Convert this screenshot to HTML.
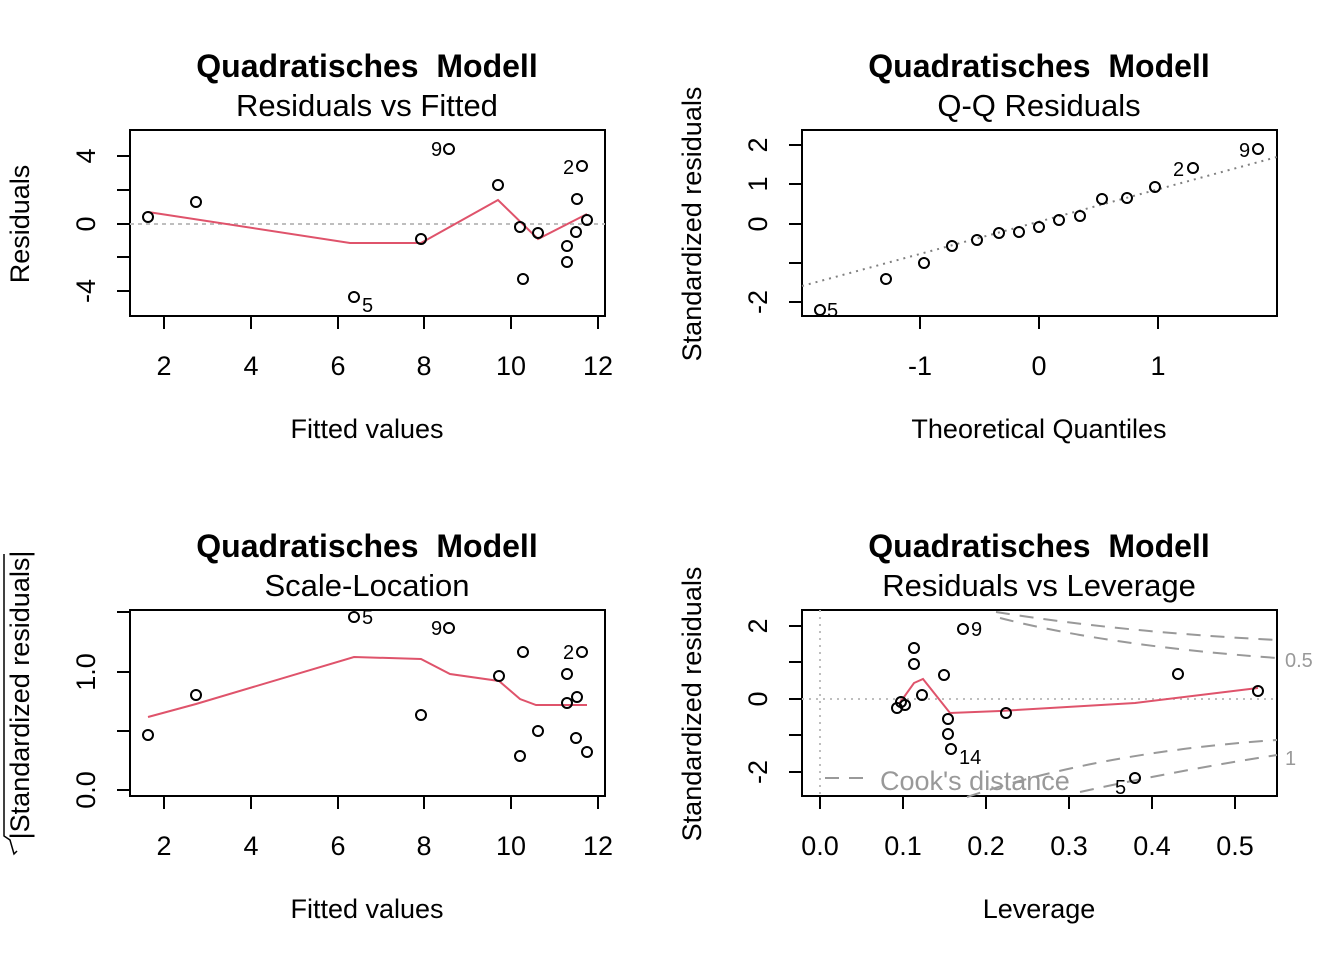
<!DOCTYPE html>
<html><head><meta charset="utf-8"><style>
html,body{margin:0;padding:0;background:#fff}
svg{display:block;font-family:"Liberation Sans",Arial,sans-serif}
</style></head><body>
<svg width="1344" height="960" xmlns="http://www.w3.org/2000/svg">
<g fill="none" stroke="#000" stroke-width="2">
<rect x="130" y="130" width="475" height="186"/>
<rect x="802" y="130" width="475" height="186"/>
<rect x="130" y="610" width="475" height="186"/>
<rect x="802" y="610" width="475" height="186"/>
<path d="M164,316v13M251,316v13M338,316v13M424,316v13M511,316v13M598,316v13"/>
<path d="M130,156h-13M130,190h-13M130,224h-13M130,257h-13M130,291h-13"/>
<path d="M920,316v13M1039,316v13M1158,316v13"/>
<path d="M802,145h-13M802,184h-13M802,224h-13M802,263h-13M802,302h-13"/>
<path d="M164,796v13M251,796v13M338,796v13M424,796v13M511,796v13M598,796v13"/>
<path d="M130,612h-13M130,672h-13M130,731h-13M130,790h-13"/>
<path d="M820,796v13M903,796v13M986,796v13M1069,796v13M1152,796v13M1235,796v13"/>
<path d="M802,626h-13M802,662h-13M802,699h-13M802,735h-13M802,772h-13"/>
</g>
<line x1="130" y1="224" x2="605" y2="224" stroke="#bebebe" stroke-width="2" stroke-dasharray="4,4"/>
<line x1="802" y1="286" x2="1277" y2="157" stroke="#808080" stroke-width="2" stroke-dasharray="2,5"/>
<line x1="802" y1="699" x2="1277" y2="699" stroke="#bebebe" stroke-width="2" stroke-dasharray="2,5"/>
<line x1="820" y1="610" x2="820" y2="796" stroke="#bebebe" stroke-width="2" stroke-dasharray="2,5"/>
<g fill="none" stroke="#999" stroke-width="2" stroke-dasharray="14,10">
<path d="M996,612 Q1120,632 1277,640"/>
<path d="M1000,618 Q1110,646 1277,658"/>
<path d="M967,797 Q1100,752 1277,740"/>
<path d="M1080,792 Q1180,770 1277,755"/>
<path d="M825,778H870"/>
</g>
<text x="880" y="790" font-size="27" fill="#999">Cook's distance</text>
<text x="1285" y="667" font-size="20" fill="#999">0.5</text>
<text x="1285" y="765" font-size="20" fill="#999">1</text>
<g fill="none" stroke="#df536b" stroke-width="2">
<polyline points="148,212 350,243 421,243 498,200 538,239 587,214"/>
<polyline points="148,717 196,704 354,657 421,659 450,674 499,681 520,699 536,705 567,705 587,705"/>
<polyline points="899,704 914,683 923,679 950,713 1000,711 1135,703 1258,688"/>
</g>
<g fill="none" stroke="#000" stroke-width="2">
<circle cx="148" cy="217" r="5"/><circle cx="196" cy="202" r="5"/><circle cx="354" cy="297" r="5"/><circle cx="421" cy="239" r="5"/><circle cx="449" cy="149" r="5"/><circle cx="498" cy="185" r="5"/><circle cx="520" cy="227" r="5"/><circle cx="523" cy="279" r="5"/><circle cx="538" cy="233" r="5"/><circle cx="567" cy="246" r="5"/><circle cx="567" cy="262" r="5"/><circle cx="576" cy="232" r="5"/><circle cx="577" cy="199" r="5"/><circle cx="582" cy="166" r="5"/><circle cx="587" cy="220" r="5"/>
<circle cx="820" cy="310" r="5"/><circle cx="886" cy="279" r="5"/><circle cx="924" cy="263" r="5"/><circle cx="952" cy="246" r="5"/><circle cx="977" cy="240" r="5"/><circle cx="999" cy="233" r="5"/><circle cx="1019" cy="232" r="5"/><circle cx="1039" cy="227" r="5"/><circle cx="1059" cy="220" r="5"/><circle cx="1080" cy="216" r="5"/><circle cx="1102" cy="199" r="5"/><circle cx="1127" cy="198" r="5"/><circle cx="1155" cy="187" r="5"/><circle cx="1193" cy="168" r="5"/><circle cx="1258" cy="149" r="5"/>
<circle cx="148" cy="735" r="5"/><circle cx="196" cy="695" r="5"/><circle cx="354" cy="617" r="5"/><circle cx="421" cy="715" r="5"/><circle cx="449" cy="628" r="5"/><circle cx="499" cy="676" r="5"/><circle cx="520" cy="756" r="5"/><circle cx="523" cy="652" r="5"/><circle cx="538" cy="731" r="5"/><circle cx="567" cy="674" r="5"/><circle cx="567" cy="703" r="5"/><circle cx="576" cy="738" r="5"/><circle cx="577" cy="697" r="5"/><circle cx="582" cy="652" r="5"/><circle cx="587" cy="752" r="5"/>
<circle cx="897" cy="708" r="5"/><circle cx="905" cy="705" r="5"/><circle cx="901" cy="702" r="5"/><circle cx="914" cy="648" r="5"/><circle cx="914" cy="664" r="5"/><circle cx="922" cy="695" r="5"/><circle cx="944" cy="675" r="5"/><circle cx="948" cy="719" r="5"/><circle cx="948" cy="734" r="5"/><circle cx="951" cy="749" r="5"/><circle cx="963" cy="629" r="5"/><circle cx="1006" cy="713" r="5"/><circle cx="1135" cy="778" r="5"/><circle cx="1178" cy="674" r="5"/><circle cx="1258" cy="691" r="5"/>
</g>
<g font-size="20" fill="#000">
<text x="431" y="156">9</text><text x="563" y="174">2</text><text x="362" y="312">5</text>
<text x="827" y="317">5</text><text x="1173" y="176">2</text><text x="1239" y="157">9</text>
<text x="362" y="624">5</text><text x="431" y="635">9</text><text x="563" y="659">2</text>
<text x="971" y="636">9</text><text x="959" y="764">14</text><text x="1115" y="794">5</text>
</g>
<g text-anchor="middle" fill="#000">
<text x="367" y="77" font-size="32" font-weight="bold" xml:space="preserve">Quadratisches  Modell</text>
<text x="367" y="116" font-size="31">Residuals vs Fitted</text>
<text x="1039" y="77" font-size="32" font-weight="bold" xml:space="preserve">Quadratisches  Modell</text>
<text x="1039" y="116" font-size="31">Q-Q Residuals</text>
<text x="367" y="557" font-size="32" font-weight="bold" xml:space="preserve">Quadratisches  Modell</text>
<text x="367" y="596" font-size="31">Scale-Location</text>
<text x="1039" y="557" font-size="32" font-weight="bold" xml:space="preserve">Quadratisches  Modell</text>
<text x="1039" y="596" font-size="31">Residuals vs Leverage</text>
<g font-size="27">
<text x="367" y="438">Fitted values</text>
<text x="1039" y="438">Theoretical Quantiles</text>
<text x="367" y="918">Fitted values</text>
<text x="1039" y="918">Leverage</text>
<text x="164" y="375">2</text><text x="251" y="375">4</text><text x="338" y="375">6</text><text x="424" y="375">8</text><text x="511" y="375">10</text><text x="598" y="375">12</text>
<text x="920" y="375">-1</text><text x="1039" y="375">0</text><text x="1158" y="375">1</text>
<text x="164" y="855">2</text><text x="251" y="855">4</text><text x="338" y="855">6</text><text x="424" y="855">8</text><text x="511" y="855">10</text><text x="598" y="855">12</text>
<text x="820" y="855">0.0</text><text x="903" y="855">0.1</text><text x="986" y="855">0.2</text><text x="1069" y="855">0.3</text><text x="1152" y="855">0.4</text><text x="1235" y="855">0.5</text>
<text transform="translate(29,224) rotate(-90)">Residuals</text>
<text transform="translate(701,224) rotate(-90)">Standardized residuals</text>
<text transform="translate(701,704) rotate(-90)">Standardized residuals</text>
<text transform="translate(29,695) rotate(-90)">|Standardized residuals|</text>
<text transform="translate(95,156) rotate(-90)">4</text><text transform="translate(95,224) rotate(-90)">0</text><text transform="translate(95,291) rotate(-90)">-4</text>
<text transform="translate(767,145) rotate(-90)">2</text><text transform="translate(767,184) rotate(-90)">1</text><text transform="translate(767,224) rotate(-90)">0</text><text transform="translate(767,302) rotate(-90)">-2</text>
<text transform="translate(95,672) rotate(-90)">1.0</text><text transform="translate(95,790) rotate(-90)">0.0</text>
<text transform="translate(767,626) rotate(-90)">2</text><text transform="translate(767,699) rotate(-90)">0</text><text transform="translate(767,772) rotate(-90)">-2</text>
</g>
</g>
<path d="M4,554V836l6,4l4,14l3,-3" fill="none" stroke="#000" stroke-width="1.5"/>
</svg>
</body></html>
